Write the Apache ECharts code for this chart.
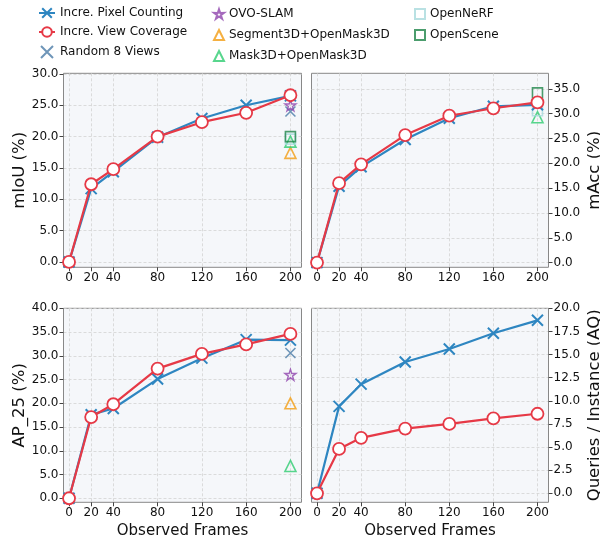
<!DOCTYPE html>
<html>
<head>
<meta charset="utf-8">
<script src="https://cdn.jsdelivr.net/npm/echarts@6/dist/echarts.min.js"></script>
<style>
html,body{margin:0;padding:0;background:#fff;}
#chart{width:600px;height:539px;}
</style>
</head>
<body>
<div id="chart"></div>
<script>
// ---------- data ----------
const frames = [0, 20, 40, 80, 120, 160, 200];
const xTicks = [0, 20, 40, 80, 120, 160, 200];

const pixMiou = [0, 11.7, 14.4, 19.9, 22.9, 25.0, 26.5];
const covMiou = [0, 12.4, 14.8, 20.0, 22.3, 23.8, 26.6];
const pixMacc = [0, 15.4, 19.3, 24.8, 29.1, 31.5, 31.8];
const covMacc = [0, 16.0, 19.8, 25.7, 29.6, 31.1, 32.3];
const pixAp = [0, 17.6, 18.9, 25.1, 29.5, 33.4, 33.3];
const covAp = [0, 17.1, 19.8, 27.3, 30.4, 32.4, 34.6];
const pixAq = [0, 9.4, 11.8, 14.2, 15.6, 17.3, 18.7];
const covAq = [0, 4.8, 6.0, 7.0, 7.5, 8.1, 8.6];

const baselineFrame = 200;
// baselines: [mIoU, mAcc, AP_25]  (null = not reported)
const random8 = [24.0, null, 30.6];
const ovoSlam = [25.0, null, 26.0];
const segment3d = [17.4, null, 20.0];
const mask3d = [19.2, 29.3, 6.8];
const openNerf = [19.6, 30.6, null];
const openScene = [20.0, 34.2, null];

const yTicksMiou = [0, 5, 10, 15, 20, 25, 30];
const yTicksMacc = [0, 5, 10, 15, 20, 25, 30, 35];
const yTicksAp = [0, 5, 10, 15, 20, 25, 30, 35, 40];
const yTicksAq = [0, 2.5, 5, 7.5, 10, 12.5, 15, 17.5, 20];

const yNames = ['mIoU (%)', 'mAcc (%)', 'AP_25 (%)', 'Queries / Instance (AQ)'];

// ---------- styles ----------
const FONT = 'DejaVu Sans';
const BLUE = '#2E86C1', RED = '#E63946';
const C_RANDOM = '#4A7BA6', C_OVO = '#8E44AD', C_SEG = '#F39C12', C_MASK = '#2ECC71', C_NERF = '#A8DADC', C_SCENE = '#1E8449';
const X_PATH = 'path://M0,0L10,10M10,0L0,10';
const STAR_PATH = 'path://M50,0L61.17,34.63L97.55,34.55L68.07,55.87L79.39,90.45L50,69L20.61,90.45L31.93,55.87L2.45,34.55L38.83,34.63Z';

const grids = [
  {left: 63.5, top: 73.3, width: 238, height: 194},
  {left: 311.5, top: 73.3, width: 237, height: 194},
  {left: 63.5, top: 308.3, width: 238, height: 194},
  {left: 311.5, top: 308.3, width: 237, height: 194}
];
const yRanges = [[-0.85, 30.1], [-0.95, 38.15], [-0.85, 40], [-0.97, 20]];
const yTickSets = [yTicksMiou, yTicksMacc, yTicksAp, yTicksAq];

const gridOpts = grids.map(g => Object.assign({
  show: true, backgroundColor: '#F5F7FA', borderColor: '#888', borderWidth: 1,
  containLabel: false, outerBoundsMode: 'none'
}, g));

const xAxes = grids.map((g, i) => ({
  type: 'value', gridIndex: i, min: -5, max: 210, position: 'bottom',
  name: i >= 2 ? 'Observed Frames' : '', nameLocation: 'middle', nameGap: 21,
  nameTextStyle: {fontFamily: FONT, fontSize: 15, color: '#111'},
  axisLine: {show: false, onZero: false},
  axisTick: {show: true, inside: false, length: 4, customValues: xTicks, lineStyle: {color: '#444', width: 1}},
  axisLabel: {customValues: xTicks, fontFamily: FONT, fontSize: 12, color: '#111', margin: 5},
  splitLine: {show: true, lineStyle: {color: '#D3D3D3', type: [3, 2], width: 0.8}}
}));

const yAxes = grids.map((g, i) => ({
  type: 'value', gridIndex: i, min: yRanges[i][0], max: yRanges[i][1],
  position: (i % 2 === 1) ? 'right' : 'left',
  name: yNames[i], nameLocation: 'middle', nameRotate: 90, nameGap: (i % 2 === 1) ? 38 : 35,
  nameTextStyle: {fontFamily: FONT, fontSize: 16.5, color: '#111'},
  axisLine: {show: false, onZero: false},
  axisTick: {show: true, inside: false, length: 4, customValues: yTickSets[i], lineStyle: {color: '#444', width: 1}},
  axisLabel: {customValues: yTickSets[i], fontFamily: FONT, fontSize: 12, color: '#111', margin: 5,
    formatter: v => v.toFixed(1)},
  splitLine: {show: true, lineStyle: {color: '#D3D3D3', type: [3, 2], width: 0.8}}
}));

function pairs(vals) { return frames.map((f, k) => [f, vals[k]]); }

const series = [];
const pixSets = [pixMiou, pixMacc, pixAp, pixAq];
const covSets = [covMiou, covMacc, covAp, covAq];

function addBaseline(name, vals, symbol, size, color, width) {
  vals.forEach((v, i) => {
    if (v === null) return;
    series.push({
      name: name, type: 'scatter', xAxisIndex: i, yAxisIndex: i, z: 2,
      symbol: symbol, symbolSize: size,
      itemStyle: {color: 'rgba(0,0,0,0)', borderColor: color, borderWidth: width},
      data: [[baselineFrame, v]]
    });
  });
}
addBaseline('Random 8 Views', random8, X_PATH, 10, C_RANDOM, 1.6);
addBaseline('OVO-SLAM', ovoSlam, STAR_PATH, 11, C_OVO, 1.4);
addBaseline('Segment3D+OpenMask3D', segment3d, 'triangle', 11, C_SEG, 1.6);
addBaseline('Mask3D+OpenMask3D', mask3d, 'triangle', 11, C_MASK, 1.6);
addBaseline('OpenNeRF', openNerf, 'rect', 10, C_NERF, 1.6);
addBaseline('OpenScene', openScene, 'rect', 10, C_SCENE, 1.6);

for (let i = 0; i < 4; i++) {
  series.push({
    name: 'Incre. Pixel Counting', type: 'line', xAxisIndex: i, yAxisIndex: i, z: 3,
    symbol: X_PATH, symbolSize: 11, showAllSymbol: true,
    lineStyle: {color: BLUE, width: 2.2},
    itemStyle: {color: 'rgba(0,0,0,0)', borderColor: BLUE, borderWidth: 2},
    data: pairs(pixSets[i])
  });
  series.push({
    name: 'Incre. View Coverage', type: 'line', xAxisIndex: i, yAxisIndex: i, z: 4,
    symbol: 'circle', symbolSize: 12, showAllSymbol: true,
    lineStyle: {color: RED, width: 2.2},
    itemStyle: {color: '#fff', borderColor: RED, borderWidth: 1.8},
    data: pairs(covSets[i])
  });
}

const legendText = {fontFamily: FONT, fontSize: 12, color: '#111'};
const option = {
  animation: false,
  backgroundColor: '#fff',
  grid: gridOpts,
  xAxis: xAxes,
  yAxis: yAxes,
  legend: [
    {orient: 'vertical', left: 38, top: 7, padding: 0, itemWidth: 16, itemHeight: 12, itemGap: 7,
     textStyle: legendText, data: ['Incre. Pixel Counting', 'Incre. View Coverage', 'Random 8 Views']},
    {orient: 'vertical', left: 213, top: 8, padding: 0, itemWidth: 10, itemHeight: 10, itemGap: 9,
     textStyle: legendText, data: ['OVO-SLAM', 'Segment3D+OpenMask3D', 'Mask3D+OpenMask3D']},
    {orient: 'vertical', left: 414, top: 8, padding: 0, itemWidth: 10, itemHeight: 10, itemGap: 9,
     textStyle: legendText, data: ['OpenNeRF', 'OpenScene']}
  ],
  series: series
};

const chart = echarts.init(document.getElementById('chart'), null, {renderer: 'canvas'});
chart.setOption(option);
</script>
</body>
</html>
